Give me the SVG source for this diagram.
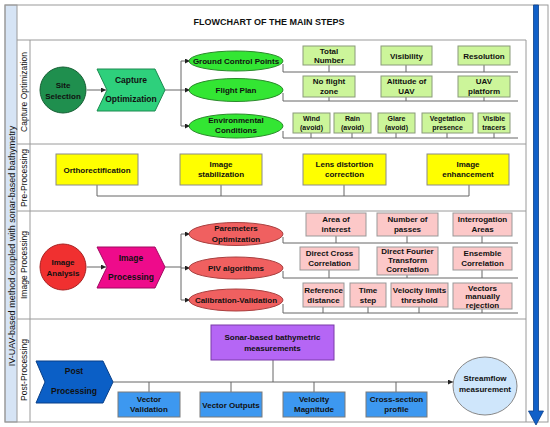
<svg xmlns="http://www.w3.org/2000/svg" width="550" height="427" viewBox="0 0 550 427">
<defs>
<marker id="ah" viewBox="0 0 10 10" refX="10" refY="5" markerWidth="5" markerHeight="5" orient="auto" markerUnits="userSpaceOnUse"><path d="M0,0 L10,5 L0,10 Z" fill="#222"/></marker>
</defs>
<style>
text{font-family:"Liberation Sans",Arial,sans-serif;font-weight:bold;font-size:8px;fill:#111;text-anchor:middle}
.lbl{font-weight:normal;font-size:8.5px}
.frame{fill:none;stroke:#9a9a9a;stroke-width:1}
.ln{fill:none;stroke:#666;stroke-width:1}
.gbox{fill:#ccf59a;stroke:#8a9a7a}
.ybox{fill:#ffff00;stroke:#8a8a8a}
.pbox{fill:#fcc8c8;stroke:#999}
.bbox{fill:#3d98f0;stroke:#7a7a7a}
.gell{fill:#33e633;stroke:#2a8a2a}
.rell{fill:#f06060;stroke:#a84040}
.sm{font-size:7px}
</style>
<rect x="0" y="0" width="550" height="427" fill="#ffffff"/>
<g id="frame">
<rect x="5" y="5" width="12" height="417" fill="#d6e4f5" stroke="#9a9a9a"/>
<rect class="frame" x="5" y="5" width="543" height="417"/>
<line class="frame" x1="17" y1="40" x2="526" y2="40"/>
<line class="frame" x1="30" y1="40" x2="30" y2="422"/>
<line class="frame" x1="526" y1="40" x2="526" y2="422"/>
<line class="frame" x1="17" y1="144" x2="526" y2="144"/>
<line class="frame" x1="17" y1="211" x2="526" y2="211"/>
<line class="frame" x1="17" y1="319" x2="526" y2="319"/>
<text x="269" y="25" style="font-size:9px">FLOWCHART OF THE MAIN STEPS</text>
<text class="lbl" transform="translate(14.5,246) rotate(-90)" style="font-size:9px">IV-UAV-based method coupled with sonar-based bathymetry</text>
<text class="lbl" transform="translate(26.5,92) rotate(-90)">Capture Optimization</text>
<text class="lbl" transform="translate(26.5,178) rotate(-90)">Pre-Processing</text>
<text class="lbl" transform="translate(26.5,265) rotate(-90)">Image Processing</text>
<text class="lbl" transform="translate(26.5,370) rotate(-90)">Post-Processing</text>
<path d="M533.5,5 L538.5,5 L538.5,411 L543.5,411 L536,425 L528.5,411 L533.5,411 Z" fill="#1060c8" stroke="#0a3f8a" stroke-width="0.8"/>
</g>
<g id="connectors">
<line class="ln" x1="87" y1="90" x2="106" y2="90" marker-end="url(#ah)"/>
<path class="ln" d="M165,90 H181 M181,61 V126"/>
<line class="ln" x1="181" y1="61" x2="190" y2="61" marker-end="url(#ah)"/>
<line class="ln" x1="181" y1="90" x2="190" y2="90" marker-end="url(#ah)"/>
<line class="ln" x1="181" y1="126" x2="190" y2="126" marker-end="url(#ah)"/>
<path class="ln" d="M283,64 V72 H518 M329,65 V72 M406,65 V72 M484,65 V72"/>
<path class="ln" d="M283,93 V101 H518 M329,97 V101 M406,97 V101 M484,97 V101"/>
<path class="ln" d="M283,131 V138 H518 M311,133 V138 M352,133 V138 M396,133 V138 M447,133 V138 M494,133 V138"/>
<path class="ln" d="M97,185 V196 H469 V185 M221,185 V196 M344,185 V196"/>
<line class="ln" x1="87" y1="267" x2="106" y2="267" marker-end="url(#ah)"/>
<path class="ln" d="M165,267 H181 M181,234 V300"/>
<line class="ln" x1="181" y1="234" x2="190" y2="234" marker-end="url(#ah)"/>
<line class="ln" x1="181" y1="268" x2="190" y2="268" marker-end="url(#ah)"/>
<line class="ln" x1="181" y1="300" x2="190" y2="300" marker-end="url(#ah)"/>
<path class="ln" d="M283,237 V243 H518 M336,236 V243 M407,236 V243 M482,236 V243"/>
<path class="ln" d="M283,271 V278 H518 M329,270 V278 M407,275 V278 M482,270 V278"/>
<path class="ln" d="M283,304 V313 H518 M323,307 V313 M368,307 V313 M419,307 V313 M482,309 V313"/>
<line class="ln" x1="113" y1="382" x2="453" y2="382" marker-end="url(#ah)"/>
<path class="ln" d="M273,360 V382 M149,382 V392 M231,382 V392 M314,382 V392 M396,382 V392"/>
</g>
<g id="site-selection">
<circle cx="63" cy="90" r="23" fill="#1f8f4e" stroke="#155f33"/>
<text x="63" y="88">Site</text><text x="63" y="98.5">Selection</text>
</g>
<g id="capture-optimization">
<path d="M97,69 L155,69 L165,90 L155,111 L97,111 L107,90 Z" fill="#2ed07c" stroke="#1c8a50"/>
<text x="131" y="83" style="font-size:8.5px">Capture</text><text x="131" y="102" style="font-size:8.5px">Optimization</text>
</g>
<g id="gcp"><ellipse class="gell" cx="236" cy="61" rx="47" ry="10"/><text x="236" y="64">Ground Control Points</text></g>
<g id="flight-plan"><ellipse class="gell" cx="236" cy="90" rx="47" ry="11.5"/><text x="236" y="93">Flight Plan</text></g>
<g id="env-conditions"><ellipse class="gell" cx="236" cy="126" rx="47" ry="12"/><text x="236" y="122.5">Environmental</text><text x="236" y="133">Conditions</text></g>
<g id="total-number"><rect class="gbox" x="303" y="46" width="52" height="19"/><text x="329" y="53.5">Total</text><text x="329" y="62.5">Number</text></g>
<g id="visibility"><rect class="gbox" x="381" y="46" width="51" height="19"/><text x="406.5" y="58.5">Visibility</text></g>
<g id="resolution"><rect class="gbox" x="458" y="46" width="52" height="19"/><text x="484" y="58.5">Resolution</text></g>
<g id="no-flight-zone"><rect class="gbox" x="303" y="76" width="52" height="21"/><text x="329" y="84">No flight</text><text x="329" y="94">zone</text></g>
<g id="altitude"><rect class="gbox" x="381" y="76" width="51" height="21"/><text x="406.5" y="84">Altitude of</text><text x="406.5" y="94">UAV</text></g>
<g id="uav-platform"><rect class="gbox" x="458" y="76" width="52" height="21"/><text x="484" y="84">UAV</text><text x="484" y="94">platform</text></g>
<g id="wind"><rect class="gbox" x="293" y="113" width="37" height="20"/><text class="sm" x="311.5" y="121">Wind</text><text class="sm" x="311.5" y="130">(avoid)</text></g>
<g id="rain"><rect class="gbox" x="334" y="113" width="37" height="20"/><text class="sm" x="352.5" y="121">Rain</text><text class="sm" x="352.5" y="130">(avoid)</text></g>
<g id="glare"><rect class="gbox" x="378" y="113" width="37" height="20"/><text class="sm" x="396.5" y="121">Glare</text><text class="sm" x="396.5" y="130">(avoid)</text></g>
<g id="vegetation"><rect class="gbox" x="422" y="113" width="51" height="20"/><text class="sm" x="447.5" y="121">Vegetation</text><text class="sm" x="447.5" y="130">presence</text></g>
<g id="tracers"><rect class="gbox" x="478" y="113" width="32" height="20"/><text class="sm" x="494" y="121">Visible</text><text class="sm" x="494" y="130">tracers</text></g>
<g id="orthorectification"><rect class="ybox" x="56" y="154" width="82" height="31"/><text x="97" y="172.5">Orthorectification</text></g>
<g id="image-stabilization"><rect class="ybox" x="180" y="154" width="82" height="31"/><text x="221" y="166.5">Image</text><text x="221" y="177">stabilization</text></g>
<g id="lens-distortion"><rect class="ybox" x="303" y="154" width="83" height="31"/><text x="344.5" y="166.5">Lens distortion</text><text x="344.5" y="177">correction</text></g>
<g id="image-enhancement"><rect class="ybox" x="427" y="154" width="82" height="31"/><text x="468" y="166.5">Image</text><text x="468" y="177">enhancement</text></g>
<g id="image-analysis">
<circle cx="63" cy="267" r="23" fill="#f03030" stroke="#a82020"/>
<text x="63" y="265">Image</text><text x="63" y="275.5">Analysis</text>
</g>
<g id="image-processing">
<path d="M97,247 L155,247 L165,267 L155,288 L97,288 L107,267 Z" fill="#ee0b8b" stroke="#a00860"/>
<text x="131" y="261" style="font-size:8.5px">Image</text><text x="131" y="280" style="font-size:8.5px">Processing</text>
</g>
<g id="parameters-opt"><ellipse class="rell" cx="236" cy="234" rx="47" ry="11.5"/><text x="236" y="231">Paremeters</text><text x="236" y="241.5">Optimization</text></g>
<g id="piv"><ellipse class="rell" cx="236" cy="268" rx="47" ry="11"/><text x="236" y="271">PIV algorithms</text></g>
<g id="calibration"><ellipse class="rell" cx="236" cy="300" rx="47" ry="11"/><text x="236" y="303">Calibration-Validation</text></g>
<g id="area-of-interest"><rect class="pbox" x="306" y="213" width="60" height="23"/><text x="336" y="222">Area of</text><text x="336" y="232">interest</text></g>
<g id="number-of-passes"><rect class="pbox" x="377" y="213" width="61" height="23"/><text x="407.5" y="222">Number of</text><text x="407.5" y="232">passes</text></g>
<g id="interrogation-areas"><rect class="pbox" x="453" y="213" width="59" height="23"/><text x="482.5" y="222">Interrogation</text><text x="482.5" y="232">Areas</text></g>
<g id="direct-cross"><rect class="pbox" x="300" y="247" width="59" height="23"/><text x="329.5" y="256">Direct Cross</text><text x="329.5" y="266">Correlation</text></g>
<g id="direct-fourier"><rect class="pbox" x="377" y="247" width="61" height="28"/><text x="407.5" y="254">Direct Fourier</text><text x="407.5" y="263">Transform</text><text x="407.5" y="272">Correlation</text></g>
<g id="ensemble"><rect class="pbox" x="453" y="247" width="59" height="23"/><text x="482.5" y="256">Ensemble</text><text x="482.5" y="266">Correlation</text></g>
<g id="reference-distance"><rect class="pbox" x="303" y="283" width="41" height="24"/><text x="323.5" y="292.5">Reference</text><text x="323.5" y="302.5">distance</text></g>
<g id="time-step"><rect class="pbox" x="350" y="283" width="36" height="24"/><text x="368" y="292.5">Time</text><text x="368" y="302.5">step</text></g>
<g id="velocity-limits"><rect class="pbox" x="391" y="283" width="57" height="24"/><text x="419.5" y="292.5">Velocity limits</text><text x="419.5" y="302.5">threshold</text></g>
<g id="vectors-rejection"><rect class="pbox" x="453" y="283" width="59" height="26"/><text x="482.5" y="290.5">Vectors</text><text x="482.5" y="299">manually</text><text x="482.5" y="307.5">rejection</text></g>
<g id="sonar"><rect x="211" y="325" width="123" height="35" fill="#b566f5" stroke="#7a3aa8"/><text x="272.5" y="340">Sonar-based bathymetric</text><text x="272.5" y="350.5">measurements</text></g>
<g id="post-processing">
<path d="M36,361 L103,361 L113,382 L103,403 L36,403 L45,382 Z" fill="#0b5fc6" stroke="#083f88"/>
<text x="74" y="374" style="font-size:8.5px">Post</text><text x="74" y="394" style="font-size:8.5px">Processing</text>
</g>
<g id="vector-validation"><rect class="bbox" x="118" y="392" width="62" height="25"/><text x="149" y="402">Vector</text><text x="149" y="412">Validation</text></g>
<g id="vector-outputs"><rect class="bbox" x="200" y="392" width="62" height="25"/><text x="231" y="407.5">Vector Outputs</text></g>
<g id="velocity-magnitude"><rect class="bbox" x="283" y="392" width="62" height="25"/><text x="314" y="402">Velocity</text><text x="314" y="412">Magnitude</text></g>
<g id="cross-section"><rect class="bbox" x="366" y="392" width="61" height="25"/><text x="396.5" y="402">Cross-section</text><text x="396.5" y="412">profile</text></g>
<g id="streamflow"><ellipse cx="485" cy="386" rx="32" ry="29" fill="#cfe6fb" stroke="#888"/><text x="485" y="381">Streamflow</text><text x="485" y="391.5">measurement</text></g>
</svg>
